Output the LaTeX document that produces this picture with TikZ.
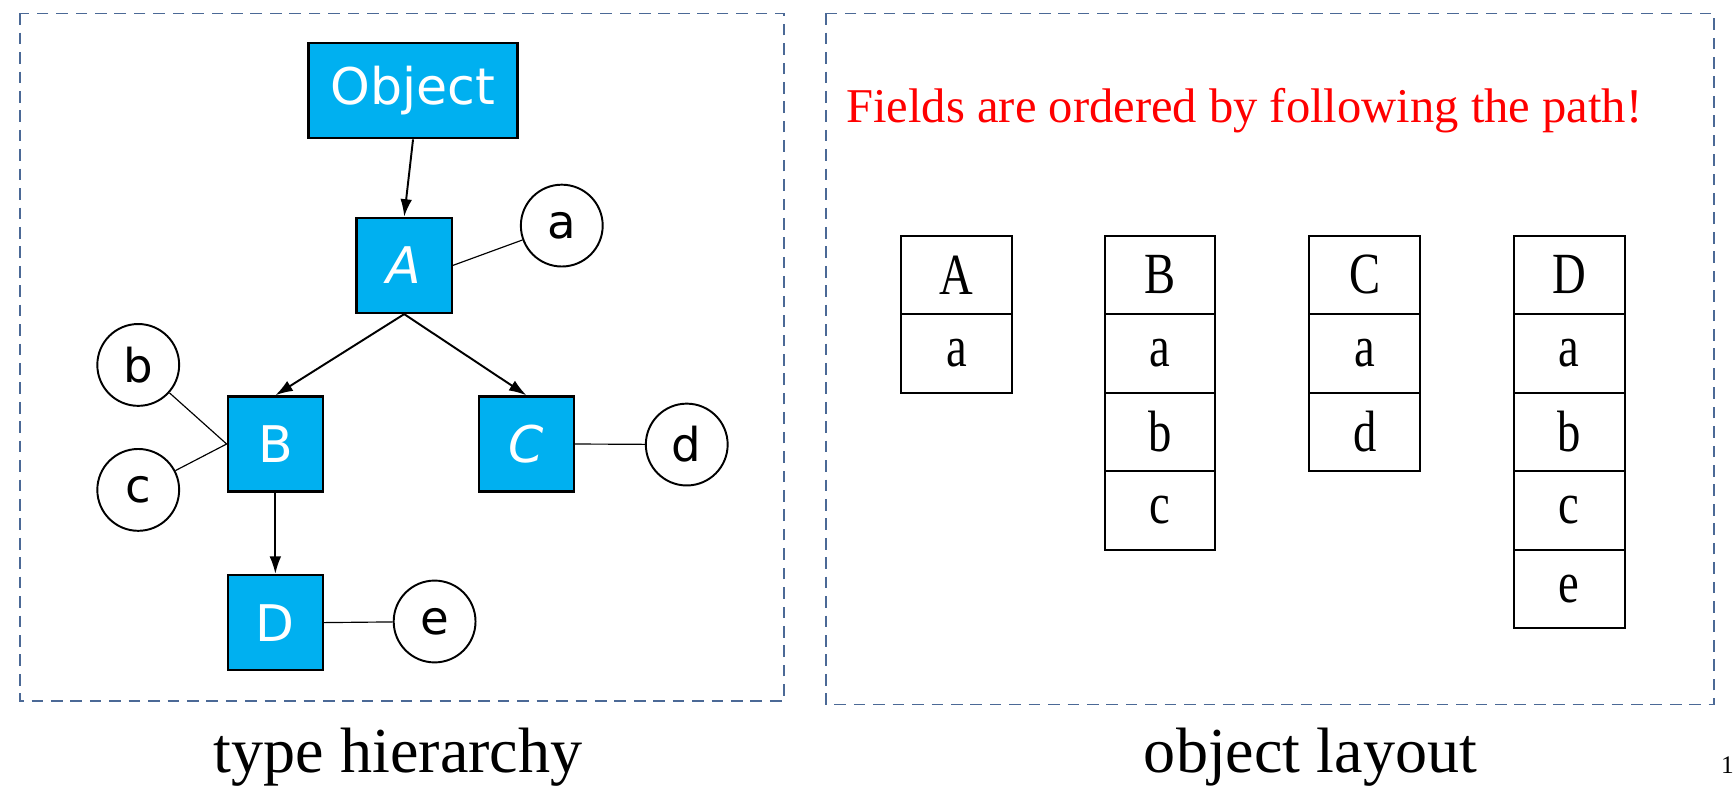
\documentclass[tikz,border=0pt]{standalone}
\usepackage{fontspec}
\usetikzlibrary{arrows.meta}
\setmainfont{Liberation Serif}
\newfontfamily\comic{DejaVu Sans}
\definecolor{fb}{RGB}{0,176,240}
\definecolor{fr}{RGB}{75,105,150}
\begin{document}
\begin{tikzpicture}[x=0.02cm,y=-0.02cm,
 frame/.style={draw=fr,dash pattern=on 6pt off 4pt,line width=0.7pt},
 cls/.style={draw=black,line width=1.2pt,fill=fb,text=white,font=\comic\fontsize{26}{26}\selectfont,inner sep=0pt},
 fld/.style={circle,draw=black,line width=1pt,minimum size=74*0.02cm,inner sep=0pt,font=\comic\fontsize{24}{24}\selectfont},
 arr/.style={-{Latex[length=9pt,width=6pt]},line width=1pt},
 ln/.style={line width=0.6pt},
 cell/.style={draw=black,line width=1pt,minimum width=100*0.02cm,minimum height=71*0.02cm,inner sep=0pt,font=\fontsize{30}{30}\selectfont}]
\useasboundingbox (0,0) rectangle (1568,722);
\draw[frame] (18,12) rectangle (709,634);
\draw[frame] (747,12) rectangle (1550,637);
\node[cls,minimum width=189*0.02cm,minimum height=86*0.02cm] (O) at (373.5,82) {Object};
\node[cls,minimum size=86*0.02cm] (A) at (365.5,240) {\textit{A}};
\node[cls,minimum size=86*0.02cm] (B) at (249,401.5) {B};
\node[cls,minimum size=86*0.02cm] (C) at (476,401.5) {\textit{C}};
\node[cls,minimum size=86*0.02cm] (D) at (249,563) {D};
\node[fld] (a) at (508,204) {a};
\node[fld] (b) at (125,330) {b};
\node[fld] (c) at (125,443) {c};
\node[fld] (d) at (621,402) {d};
\node[fld] (e) at (393,562) {e};
\draw[arr] (O.south) -- (A.north);
\draw[arr] (A.south) -- (B.north);
\draw[arr] (A.south) -- (C.north);
\draw[arr] (B.south) -- (D.north);
\draw[ln] (A.east) -- (a);
\draw[ln] (B.west) -- (b);
\draw[ln] (B.west) -- (c);
\draw[ln] (C.east) -- (d);
\draw[ln] (D.east) -- (e);
\node[text=red,font=\fontsize{25}{25}\selectfont,anchor=west,inner sep=0pt] (t) at (765,100) {Fields are ordered by following the path!};
\foreach \x/\lst in {865/{A,a},1049/{B,a,b,c},1234/{C,a,d},1419/{D,a,b,c,e}}{
  \foreach \s [count=\i] in \lst {
    \node[cell] (c\x-\i) at (\x,213+71*\i-35.5) {\scalebox{0.8}[1]{\s}};
  }
}
\node[font=\fontsize{33}{33}\selectfont] (l1) at (360,685) {type hierarchy};
\node[font=\fontsize{33}{33}\selectfont] (l2) at (1185,685) {object layout};
\node[font=\fontsize{13}{13}\selectfont,anchor=west,inner sep=0pt] (n) at (1556,692) {1};
\end{tikzpicture}
\end{document}
